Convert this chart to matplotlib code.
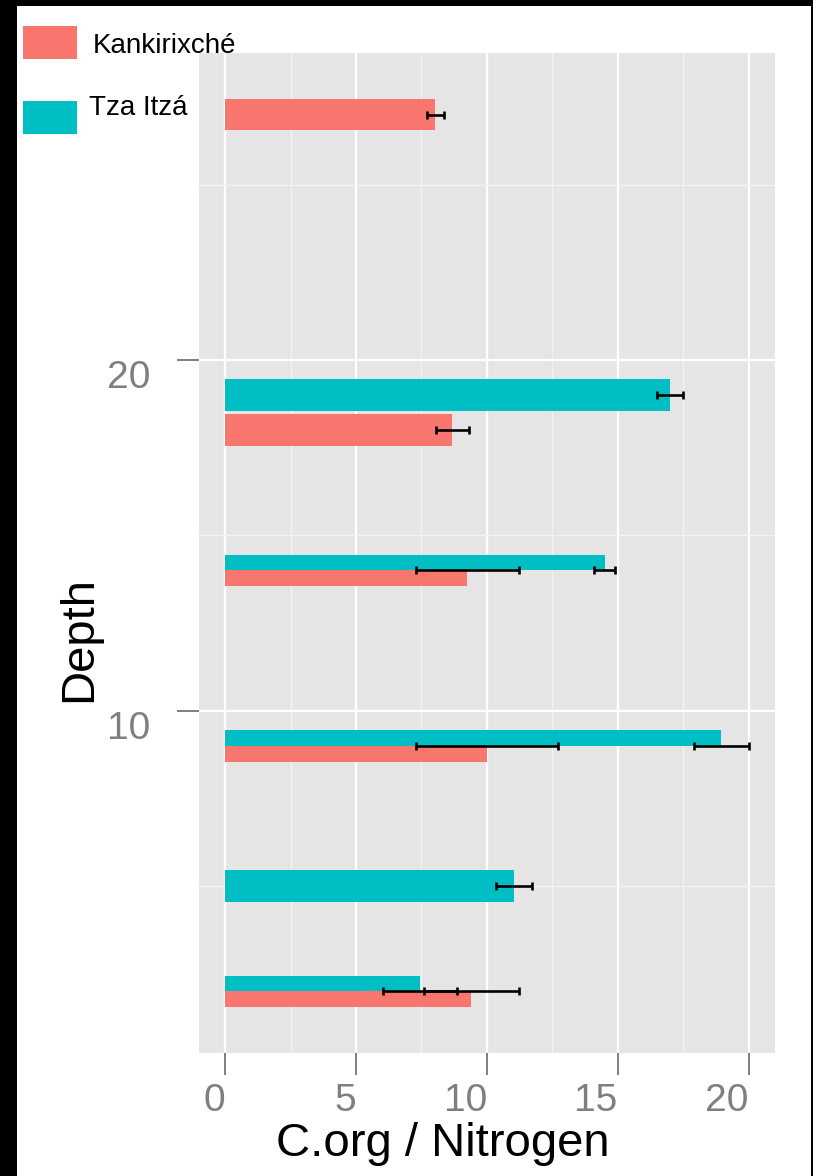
import matplotlib
matplotlib.use("Agg")
import matplotlib.pyplot as plt
from matplotlib.patches import Rectangle
from matplotlib.ticker import MultipleLocator

plt.rcParams['font.family'] = ['Liberation Sans', 'DejaVu Sans']

sites = ["Kankirixché", "Tza Itzá"]
site_colors = ["#F8766D", "#00BFC4"]

# C.org / N ratio per depth, mean and error half-width
kank_depth = [27, 18, 14, 9, 2]
kank_ratio = [8.03, 8.67, 9.25, 10.0, 9.40]
kank_err = [0.33, 0.63, 1.96, 2.70, 1.81]

tza_depth = [19, 14, 9, 5, 2]
tza_ratio = [17.0, 14.5, 18.96, 11.05, 7.45]
tza_err = [0.48, 0.40, 1.05, 0.69, 1.42]

W, H = 813, 1176
fig = plt.figure(figsize=(W / 100, H / 100), dpi=100)
fig.patch.set_facecolor("white")


def fx(px):
    return px / W


def fy(py):
    return 1 - py / H


ax = fig.add_axes([fx(199), fy(1052.5), fx(775) - fx(199), (1052.5 - 53.3) / H])
ax.set_facecolor("#E5E5E5")
for s in ax.spines.values():
    s.set_visible(False)

bar_w = 0.9
series = [(kank_depth, kank_ratio, kank_err), (tza_depth, tza_ratio, tza_err)]
shared = set(kank_depth) & set(tza_depth)

for i, (depth, ratio, err) in enumerate(series):
    ys, hs = [], []
    for d in depth:
        if d in shared:
            # dodge the two sites side by side
            ys.append(d + (i - 0.5) * bar_w / 2)
            hs.append(bar_w / 2)
        else:
            ys.append(d)
            hs.append(bar_w)
    ax.barh(ys, ratio, height=hs, left=0, color=site_colors[i], zorder=2)
    ax.errorbar(ratio, depth, xerr=err, fmt="none", ecolor="black",
                elinewidth=1.9, capsize=2.8, capthick=1.9, zorder=3)

# limits with 5% expansion like ggplot
y_lo = min(kank_depth + tza_depth) - bar_w / 2
y_hi = max(kank_depth + tza_depth) + bar_w / 2
yr = y_hi - y_lo
ax.set_ylim(y_lo - 0.05 * yr, y_hi + 0.05 * yr)
x_hi = max([r + e for r, e in zip(kank_ratio + tza_ratio, kank_err + tza_err)])
ax.set_xlim(-0.05 * x_hi, x_hi * 1.05)

ax.xaxis.set_major_locator(MultipleLocator(5))
ax.xaxis.set_minor_locator(MultipleLocator(2.5))
ax.yaxis.set_major_locator(MultipleLocator(10))
ax.yaxis.set_minor_locator(MultipleLocator(5))
ax.grid(which="major", color="white", linewidth=1.7, zorder=0)
ax.grid(which="minor", color="#F2F2F2", linewidth=1.0, zorder=0)
ax.set_axisbelow(True)

ax.tick_params(which="major", axis="both", length=16, width=1.4, color="#7F7F7F",
               labelsize=28, labelcolor="#7F7F7F")
ax.tick_params(which="minor", length=0)
ax.tick_params(axis="x", pad=6)
ax.tick_params(axis="y", pad=19)
for t in ax.get_xticklabels():
    t.set_ha("right")
for t in ax.get_yticklabels():
    t.set_va("top")

ax.set_xlabel("C.org / Nitrogen", fontsize=34, color="black")
ax.xaxis.set_label_coords((442.5 - 199) / 576, (1052.5 - 1144) / 999.2)
ax.xaxis.label.set_va("center")
ax.set_ylabel("Depth", fontsize=34, color="black")
ax.yaxis.set_label_coords((79 - 199) / 576, (1052.5 - 639.5) / 999.2)
ax.yaxis.label.set_va("center")

# legend drawn in figure space at the top left
key_tops = [26, 101]
text_pos = [(92.5, 53.3), (89.3, 115)]
for i, name in enumerate(sites):
    fig.add_artist(Rectangle((fx(22.7), fy(key_tops[i] + 32.7)), fx(54.3), 32.7 / H,
                             transform=fig.transFigure, facecolor=site_colors[i],
                             edgecolor="none"))
    fig.text(fx(text_pos[i][0]), fy(text_pos[i][1]), name, fontsize=20,
             va="baseline", ha="left", color="black")

# black frame strips
fig.add_artist(Rectangle((0, 0), fx(17), 1, transform=fig.transFigure,
                         facecolor="black", edgecolor="none"))
fig.add_artist(Rectangle((0, fy(5.7)), 1, 5.7 / H, transform=fig.transFigure,
                         facecolor="black", edgecolor="none"))
fig.add_artist(Rectangle((fx(811), 0), fx(2), 1, transform=fig.transFigure,
                         facecolor="black", edgecolor="none"))

fig.savefig("out.png", dpi=100)
